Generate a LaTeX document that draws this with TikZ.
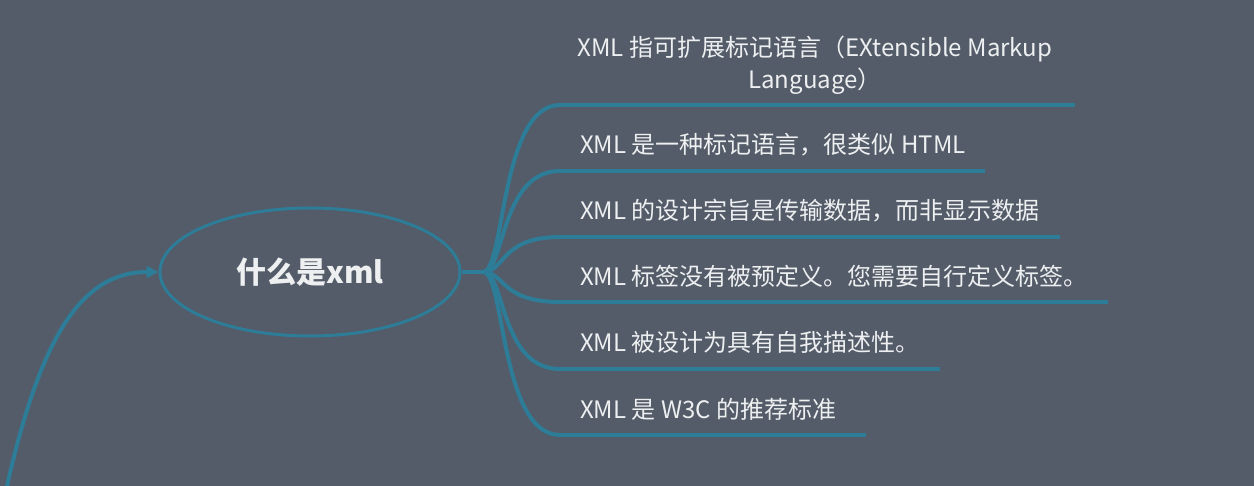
\documentclass[tikz,border=0pt]{standalone}
\usepackage{fontspec}
\setmainfont{Noto Sans CJK SC}
\usetikzlibrary{shapes.geometric,arrows.meta}
\definecolor{bg}{HTML}{535C68}
\definecolor{ln}{HTML}{2E7D98}
\definecolor{tx}{HTML}{EDEFF1}
\tikzset{
  leaf/.style={anchor=base west, inner sep=0pt, text=tx, font=\fontsize{24}{32}\selectfont},
  under/.style={draw=ln, line width=4.5pt},
  branch/.style={draw=ln, line width=4pt},
}
\begin{document}
\begin{tikzpicture}[x=1pt,y=-1pt]
\fill[bg] (0,0) rectangle (1254,486);
\useasboundingbox (0,0) rectangle (1254,486);
\node[ellipse, draw=ln, line width=3pt, minimum width=300pt, minimum height=128pt, inner sep=0pt, text=tx, font=\fontsize{30}{34}\selectfont\bfseries] (root) at (310,272) {什么是xml};
\coordinate (j) at (483,272);
\coordinate (start) at (7,486);
\draw[ln, line width=4pt, -{Triangle[length=12pt,width=12pt]}] (start) .. controls (40,340) and (80,272) .. (root.west);
\draw[branch] (root.east) -- (j);
% leaf texts
\node[anchor=base, inner sep=0pt, text=tx, align=center, font=\fontsize{24}{32}\selectfont] (t1) at (815,89) {XML 指可扩展标记语言（EXtensible Markup\\Language）};
\node[leaf] (t2) at (580,154) {XML 是一种标记语言，很类似 HTML};
\node[leaf] (t3) at (580,220) {XML 的设计宗旨是传输数据，而非显示数据};
\node[leaf] (t4) at (580,286) {XML 标签没有被预定义。您需要自行定义标签。};
\node[leaf] (t5) at (580,352) {XML 被设计为具有自我描述性。};
\node[leaf] (t6) at (580,418) {XML 是 W3C 的推荐标准};
% underline coordinates
\coordinate (s1) at (560,105); \coordinate (e1) at (1075,105);
\coordinate (s2) at (560,171); \coordinate (e2) at (985,171);
\coordinate (s3) at (560,237); \coordinate (e3) at (1060,237);
\coordinate (s4) at (560,302); \coordinate (e4) at (1108,302);
\coordinate (s5) at (560,369); \coordinate (e5) at (940,369);
\coordinate (s6) at (560,435); \coordinate (e6) at (866,435);
\foreach \i/\yy in {1/105,2/171,3/237,4/302,5/369,6/435}{
  \draw[branch] (j) .. controls (505,272) and (500,\yy) .. (s\i);
  \draw[under] (s\i) -- (e\i);
}
\end{tikzpicture}
\end{document}
